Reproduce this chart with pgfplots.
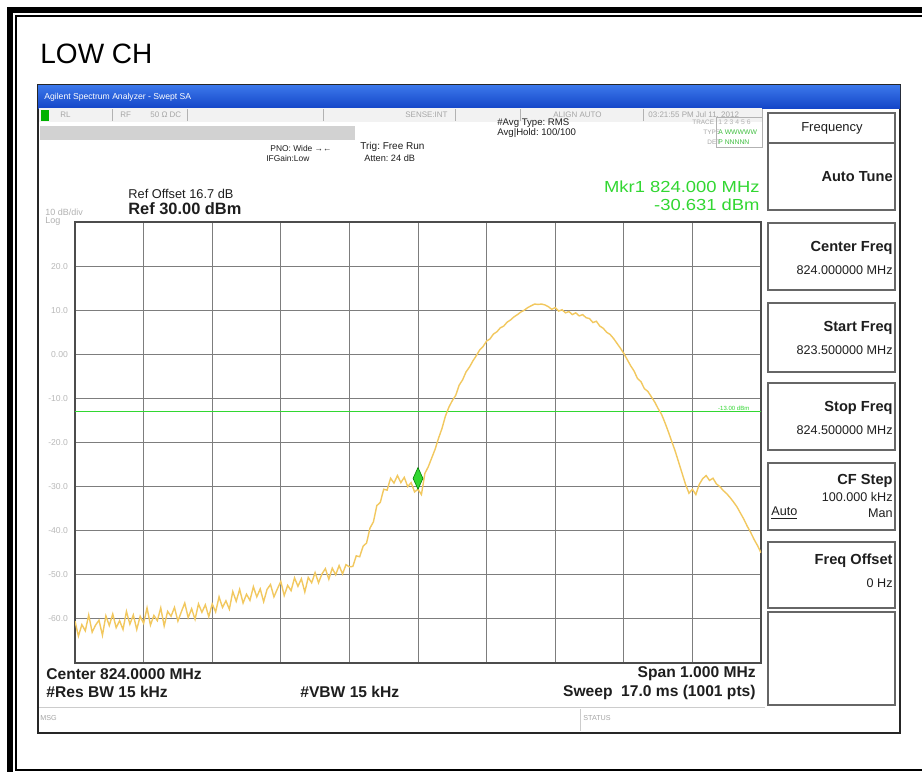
\documentclass[border=0pt]{standalone}
\usepackage{fontspec}
\setmainfont{Liberation Sans}
\usepackage{pgfplots}
\pgfplotsset{compat=1.18}
\definecolor{trace}{RGB}{242,200,95}
\definecolor{mkgreen}{RGB}{50,215,50}
\definecolor{gridc}{RGB}{125,125,125}
\definecolor{tbarA}{RGB}{60,120,235}
\definecolor{tbarB}{RGB}{20,70,200}
\definecolor{txt}{RGB}{30,30,30}
\newcommand{\fs}[1]{\fontsize{#1}{#1}\selectfont}
\newcommand{\pbox}[2]{\draw[line width=0.9pt, black!60] (768,#1) rectangle (895,#2);}
\frenchspacing
\begin{document}
\begin{tikzpicture}
\begin{scope}[x=0.5pt,y=-0.5pt]
\useasboundingbox (0,0) rectangle (922,772);
\fill[white] (0,0) rectangle (922,772);
% outer document frame
\fill[black] (7,7) rectangle (922,13);
\fill[black] (7,7) rectangle (13,772);
\fill[black] (15,15) rectangle (922,17);
\fill[black] (15,15) rectangle (17,771);
\fill[black] (15,769) rectangle (922,771);
\node[anchor=base west, inner sep=0, font=\fs{14}] at (40,63) {LOW CH};
% screenshot
\draw[line width=1.2pt, black!85] (38,85) rectangle (900,733);
\shade[top color=tbarA, bottom color=tbarB] (38,85) rectangle (900,108);
\node[anchor=west, inner sep=0, font=\fs{4.3}, text=white] at (44,97) {Agilent Spectrum Analyzer - Swept SA};
\fill[gray!10] (39,108) rectangle (762,122);
\fill[green!70!black] (41,110) rectangle (49,121);
\foreach \xx in {112,187,323,455,520,643,762} \draw[gray!60, line width=0.4pt] (\xx,109) -- (\xx,121);
\begin{scope}[every node/.style={anchor=west, inner sep=0, font=\fs{4}, text=gray!70}]
\node at (60,115) {RL};
\node at (120,115) {RF};
\node at (150,115) {50 Ω  DC};
\node at (405,115) {SENSE:INT};
\node at (553,115) {ALIGN AUTO};
\node at (648,115) {03:21:55 PM Jul 11, 2012};
\end{scope}
\fill[gray!35] (40,126) rectangle (355,140);
\begin{scope}[every node/.style={anchor=west, inner sep=0, font=\fs{4.2}, text=txt}]
\node at (270,148) {PNO: Wide →←};
\node at (266,158) {IFGain:Low};
\node[font=\fs{5}] at (360,147) {Trig: Free Run};
\node[font=\fs{4.6}] at (364,158) {Atten: 24 dB};
\node[font=\fs{4.8}] at (497,123) {\#Avg Type: RMS};
\node[font=\fs{4.8}] at (497,133) {Avg|Hold: 100/100};
\node[font=\fs{3.2}, text=gray!70] at (692,122) {TRACE};
\node[font=\fs{3.2}, text=gray!70] at (703,132) {TYPE};
\node[font=\fs{3.2}, text=gray!70] at (707,142) {DET};
\node[font=\fs{3.4}, text=gray!60] at (718,122) {1 2 3 4 5 6};
\node[font=\fs{3.4}, text=green!50!gray] at (718,132) {A WWWWW};
\node[font=\fs{3.4}, text=green!50!gray] at (718,142) {P NNNNN};
\end{scope}
\draw[gray!60, line width=0.3pt] (716,117) rectangle (762,147);
\node[anchor=east, inner sep=0, font=\fs{8}, text=mkgreen, xscale=1.15] at (760,187) {Mkr1 824.000 MHz};
\node[anchor=east, inner sep=0, font=\fs{8}, text=mkgreen, xscale=1.15] at (760,205) {-30.631 dBm};
\node[anchor=west, inner sep=0, font=\fs{6.4}, text=txt] at (128,194) {Ref Offset 16.7 dB};
\node[anchor=west, inner sep=0, font=\bfseries\fs{8.2}, text=txt] at (128,209) {Ref 30.00 dBm};
\node[anchor=west, inner sep=0, font=\fs{4.5}, text=gray!60] at (45,212) {10 dB/div};
\node[anchor=west, inner sep=0, font=\fs{4.5}, text=gray!60] at (45,221) {Log};
% right panel
\pbox{113}{143}\pbox{143}{210}\pbox{223}{290}\pbox{303}{372}\pbox{383}{450}\pbox{463}{530}\pbox{542}{608}\pbox{612}{705}
\node[inner sep=0, font=\fs{6.5}, text=txt] at (832,128) {Frequency};
\begin{scope}[every node/.style={anchor=east, inner sep=0, text=txt}]
\node[font=\bfseries\fs{7.3}] at (893,177) {Auto Tune};
\node[font=\bfseries\fs{7.3}] at (893,248) {Center Freq};
\node[font=\fs{6.3}] at (893,270) {824.000000 MHz};
\node[font=\bfseries\fs{7.3}] at (893,328) {Start Freq};
\node[font=\fs{6.3}] at (893,350) {823.500000 MHz};
\node[font=\bfseries\fs{7.3}] at (893,408) {Stop Freq};
\node[font=\fs{6.3}] at (893,430) {824.500000 MHz};
\node[font=\bfseries\fs{7.3}] at (893,481) {CF Step};
\node[font=\fs{6.3}] at (893,497) {100.000 kHz};
\node[font=\fs{6.3}] at (893,513) {Man};
\node[font=\bfseries\fs{7.3}] at (893,561) {Freq Offset};
\node[font=\fs{6.3}] at (893,583) {0 Hz};
\end{scope}
\node[anchor=west, inner sep=0, font=\fs{6.3}, text=txt] at (771,513) {\underline{Auto}};
% bottom texts
\begin{scope}[every node/.style={inner sep=0, text=txt, font=\bfseries\fs{7.8}}]
\node[anchor=west] at (46,674) {Center 824.0000 MHz};
\node[anchor=west] at (46,692) {\#Res BW 15 kHz};
\node[anchor=west] at (300,692) {\#VBW 15 kHz};
\node[anchor=east] at (756,674) {Span 1.000 MHz};
\node[anchor=east] at (756,692) {Sweep \ 17.0 ms (1001 pts)};
\end{scope}
\draw[gray!40, line width=0.4pt] (39,707) -- (765,707);
\draw[gray!40, line width=0.4pt] (580,709) -- (580,731);
\node[anchor=west, inner sep=0, font=\fs{3.6}, text=gray!70] at (40,718) {MSG};
\node[anchor=west, inner sep=0, font=\fs{3.6}, text=gray!70] at (583,718) {STATUS};
\end{scope}
\begin{axis}[
  at={(37.5pt,-331.5pt)}, anchor=south west,
  scale only axis, width=343pt, height=220.5pt,
  xmin=823.5, xmax=824.5, ymin=-70, ymax=30,
  xtick={823.6,823.7,823.8,823.9,824.0,824.1,824.2,824.3,824.4},
  xticklabel=\empty,
  ytick={-60,-50,-40,-30,-20,-10,0,10,20},
  yticklabels={-60.0,-50.0,-40.0,-30.0,-20.0,-10.0,0.00,10.0,20.0},
  yticklabel style={font=\fs{4.3}, text=gray!55},
  major tick length=0pt,
  grid=major,
  major grid style={gridc, line width=0.5pt},
  axis line style={black!70, line width=0.8pt},
  clip=true,
]
\addplot[mkgreen, line width=0.45pt] coordinates {(823.5,-13) (824.5,-13)}
  node[pos=0.985, anchor=south east, inner sep=0.5pt, font=\fs{3}, text=mkgreen] {-13.00 dBm};
\addplot[trace, line width=0.7pt] coordinates {
(823.500,-60.5) (823.505,-63.9) (823.510,-61.3) (823.515,-62.7) (823.520,-59.1) (823.525,-63.0) (823.530,-61.4) (823.535,-60.3) (823.540,-63.7) (823.545,-59.3)
(823.550,-61.5) (823.555,-58.9) (823.560,-62.0) (823.565,-60.4) (823.570,-62.4) (823.575,-58.3) (823.580,-61.2) (823.585,-59.1) (823.590,-62.4) (823.595,-59.4)
(823.600,-61.0) (823.605,-57.5) (823.610,-61.4) (823.615,-59.2) (823.620,-60.4) (823.625,-57.5) (823.630,-61.6) (823.635,-58.3) (823.640,-59.4) (823.645,-57.4)
(823.650,-60.5) (823.655,-58.4) (823.660,-56.4) (823.665,-59.7) (823.670,-57.7) (823.675,-60.1) (823.680,-56.6) (823.685,-58.5) (823.690,-56.8) (823.695,-59.5)
(823.700,-56.6) (823.705,-58.4) (823.710,-55.0) (823.715,-57.4) (823.720,-55.9) (823.725,-57.8) (823.730,-53.8) (823.735,-56.0) (823.740,-53.3) (823.745,-56.4)
(823.750,-54.4) (823.755,-55.8) (823.760,-52.7) (823.765,-55.0) (823.770,-53.2) (823.775,-56.1) (823.780,-53.3) (823.785,-52.2) (823.790,-55.0) (823.795,-53.2)
(823.800,-51.5) (823.805,-54.7) (823.810,-52.4) (823.815,-53.6) (823.820,-50.7) (823.825,-52.6) (823.830,-50.9) (823.835,-53.9) (823.840,-50.6) (823.845,-51.8)
(823.850,-49.5) (823.855,-51.8) (823.860,-49.8) (823.865,-48.6) (823.870,-51.0) (823.875,-48.5) (823.880,-50.0) (823.885,-47.9) (823.890,-49.8) (823.895,-47.7)
(823.900,-48.2) (823.905,-48.1) (823.910,-45.7) (823.915,-45.9) (823.920,-43.5) (823.925,-42.8) (823.930,-39.4) (823.935,-38.0) (823.940,-34.3) (823.945,-33.6)
(823.950,-30.6) (823.955,-30.8) (823.960,-28.1) (823.965,-29.2) (823.970,-27.5) (823.975,-29.1) (823.980,-27.9) (823.985,-30.0) (823.990,-29.1) (823.995,-31.2)
(824.000,-30.6) (824.005,-31.8) (824.010,-27.0) (824.015,-25.5) (824.020,-23.5) (824.025,-21.5) (824.030,-19.0) (824.035,-16.8) (824.040,-14.0) (824.045,-12.0)
(824.050,-10.5) (824.055,-9.3) (824.060,-7.0) (824.065,-5.8) (824.070,-4.0) (824.075,-2.9) (824.080,-1.5) (824.085,-0.3) (824.090,1.0) (824.095,1.8)
(824.100,3.0) (824.105,3.5) (824.110,4.6) (824.115,5.1) (824.120,6.0) (824.125,6.4) (824.130,7.3) (824.135,7.8) (824.140,8.5) (824.145,9.0)
(824.150,9.6) (824.155,10.0) (824.160,10.6) (824.165,11.0) (824.170,11.4) (824.175,11.3) (824.180,11.4) (824.185,11.2) (824.190,10.8) (824.195,10.2)
(824.200,10.6) (824.205,9.8) (824.210,10.1) (824.215,9.4) (824.220,9.7) (824.225,9.0) (824.230,9.4) (824.235,8.7) (824.240,9.0) (824.245,8.3)
(824.250,8.1) (824.255,7.2) (824.260,7.5) (824.265,6.4) (824.270,5.9) (824.275,5.0) (824.280,4.5) (824.285,3.6) (824.290,2.5) (824.295,1.4)
(824.300,0.2) (824.305,-1.2) (824.310,-2.6) (824.315,-3.8) (824.320,-5.5) (824.325,-6.2) (824.330,-7.8) (824.335,-8.4) (824.340,-9.6) (824.345,-10.8)
(824.350,-12.3) (824.355,-13.6) (824.360,-15.5) (824.365,-17.6) (824.370,-19.8) (824.375,-22.0) (824.380,-24.5) (824.385,-27.0) (824.390,-29.5) (824.395,-31.5)
(824.400,-30.6) (824.405,-31.8) (824.410,-29.5) (824.415,-28.2) (824.420,-27.5) (824.425,-28.6) (824.430,-28.1) (824.435,-29.4) (824.440,-30.0) (824.445,-30.9)
(824.450,-31.6) (824.455,-32.5) (824.460,-33.5) (824.465,-34.6) (824.470,-36.0) (824.475,-37.4) (824.480,-39.0) (824.485,-40.4) (824.490,-42.0) (824.495,-43.4)
(824.500,-45.0)
};
\addplot[only marks, mark=diamond*, mark size=3.3pt,
  mark options={fill=mkgreen, draw=green!50!black, line width=0.3pt, yshift=5.5pt, yscale=1.65}]
  coordinates {(824.0,-30.631)};
\end{axis}
\end{tikzpicture}
\end{document}
